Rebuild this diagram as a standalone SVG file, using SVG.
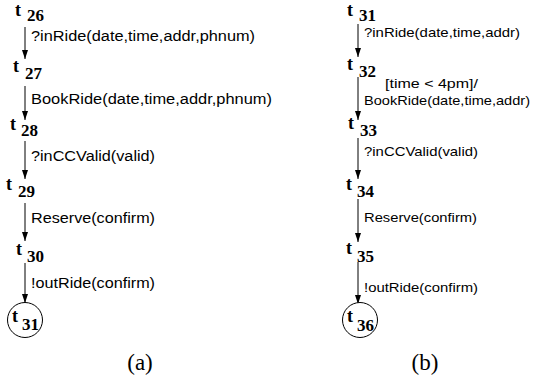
<svg xmlns="http://www.w3.org/2000/svg" width="533" height="383" viewBox="0 0 533 383">
<style>
.t{font-family:"Liberation Serif","Times New Roman",serif;font-weight:bold;font-size:18px;fill:#000}
.n{font-family:"Liberation Serif","Times New Roman",serif;font-weight:bold;font-size:17px;fill:#000}
.la{font-family:"Liberation Sans",Arial,sans-serif;font-size:14px;fill:#000}
.lb{font-family:"Liberation Sans",Arial,sans-serif;font-size:13.5px;fill:#000}
.cap{font-family:"Liberation Serif","Times New Roman",serif;font-size:23px;fill:#000;text-anchor:middle}
.e{stroke:#000;stroke-width:1;fill:none;marker-end:url(#ah)}
.fin{stroke:#000;stroke-width:1;fill:#fff}
</style>
<defs>
<marker id="ah" markerWidth="9" markerHeight="7" refX="9" refY="3.5" orient="auto" markerUnits="userSpaceOnUse" viewBox="0 0 9 7">
<path d="M0,0.5 L9,3.5 L0,6.5 Z" fill="#000"/>
</marker>
</defs>
<g id="connectors">
<line class="e" x1="25" y1="27" x2="25" y2="59"/>
<line class="e" x1="25" y1="86" x2="25" y2="120"/>
<line class="e" x1="25" y1="141" x2="25" y2="179"/>
<line class="e" x1="25" y1="203" x2="25" y2="241"/>
<line class="e" x1="25" y1="263" x2="25" y2="303"/>
<text class="la" x="31" y="41" textLength="224" lengthAdjust="spacingAndGlyphs">?inRide(date,time,addr,phnum)</text>
<text class="la" x="31" y="104" textLength="241" lengthAdjust="spacingAndGlyphs">BookRide(date,time,addr,phnum)</text>
<text class="la" x="31" y="161" textLength="124" lengthAdjust="spacingAndGlyphs">?inCCValid(valid)</text>
<text class="la" x="31" y="223" textLength="124" lengthAdjust="spacingAndGlyphs">Reserve(confirm)</text>
<text class="la" x="31" y="288" textLength="124" lengthAdjust="spacingAndGlyphs">!outRide(confirm)</text>
<line class="e" x1="358" y1="24" x2="358" y2="57"/>
<line class="e" x1="358" y1="77" x2="358" y2="120"/>
<line class="e" x1="358" y1="138" x2="358" y2="179"/>
<line class="e" x1="358" y1="199" x2="358" y2="242"/>
<line class="e" x1="358" y1="262" x2="358" y2="304"/>
<text class="lb" x="364" y="37" textLength="156" lengthAdjust="spacingAndGlyphs">?inRide(date,time,addr)</text>
<text class="lb" x="385" y="88" textLength="93" lengthAdjust="spacingAndGlyphs">[time &lt; 4pm]/</text>
<text class="lb" x="364" y="105" textLength="166" lengthAdjust="spacingAndGlyphs">BookRide(date,time,addr)</text>
<text class="lb" x="364" y="156" textLength="114" lengthAdjust="spacingAndGlyphs">?inCCValid(valid)</text>
<text class="lb" x="364" y="222" textLength="113" lengthAdjust="spacingAndGlyphs">Reserve(confirm)</text>
<text class="lb" x="364" y="292" textLength="114" lengthAdjust="spacingAndGlyphs">!outRide(confirm)</text>
</g>
<g id="t26"><text class="t" x="15" y="16">t</text><text class="n" x="27" y="21">26</text></g>
<g id="t27"><text class="t" x="13" y="72">t</text><text class="n" x="25" y="79">27</text></g>
<g id="t28"><text class="t" x="10" y="130">t</text><text class="n" x="21" y="136">28</text></g>
<g id="t29"><text class="t" x="6" y="190">t</text><text class="n" x="18" y="197">29</text></g>
<g id="t30"><text class="t" x="16" y="255">t</text><text class="n" x="27" y="262">30</text></g>
<g id="t31a"><circle class="fin" cx="25" cy="320" r="17.5"/><text class="t" x="12" y="322">t</text><text class="n" x="22" y="330">31</text></g>
<g id="t31b"><text class="t" x="347" y="16">t</text><text class="n" x="359" y="21">31</text></g>
<g id="t32"><text class="t" x="347" y="70">t</text><text class="n" x="359" y="77">32</text></g>
<g id="t33"><text class="t" x="348" y="129">t</text><text class="n" x="360" y="136">33</text></g>
<g id="t34"><text class="t" x="346" y="190">t</text><text class="n" x="357" y="197">34</text></g>
<g id="t35"><text class="t" x="346" y="254">t</text><text class="n" x="357" y="262">35</text></g>
<g id="t36"><circle class="fin" cx="360" cy="320" r="17.5"/><text class="t" x="347" y="322">t</text><text class="n" x="357" y="331">36</text></g>
<text class="cap" x="140" y="370">(a)</text>
<text class="cap" x="425" y="370">(b)</text>
</svg>
